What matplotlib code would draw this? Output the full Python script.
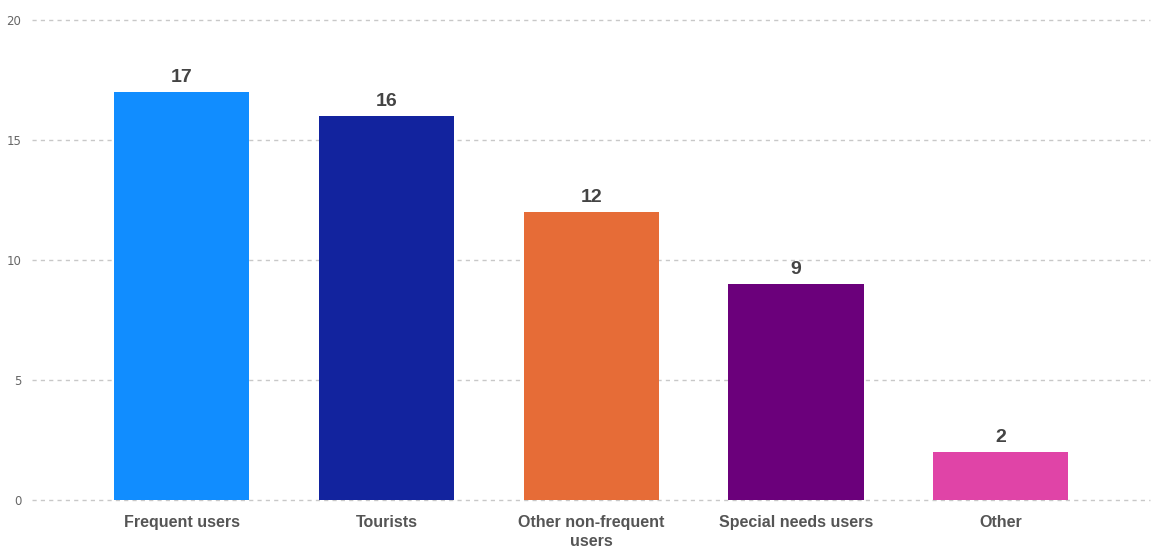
import matplotlib.pyplot as plt

# categories and counts
categories = ["Frequent users", "Tourists", "Other non-frequent\nusers",
              "Special needs users", "Other"]
counts = [17, 16, 12, 9, 2]
bar_colors = ["#118DFF", "#12239E", "#E66C37", "#6B007B", "#E044A7"]
y_ticks = [0, 5, 10, 15, 20]

fig = plt.figure(figsize=(11.56, 5.5), dpi=100)
ax = fig.add_axes([0.028, 0.091, 0.967, 0.873])

x = range(len(categories))
bars = ax.bar(x, counts, width=0.66, color=bar_colors, zorder=3)

# value labels above each bar
for b, v in zip(bars, counts):
    ax.text(b.get_x() + b.get_width() / 2, v + 0.25, str(v),
            ha="center", va="bottom", fontsize=14, fontweight="bold",
            color="#444444", family="Liberation Sans")

ax.set_xlim(-0.73, 4.73)
ax.set_ylim(0, 20)
ax.set_yticks(y_ticks)
ax.set_xticks(list(x))
ax.set_xticklabels(categories, fontsize=11.5, fontweight="bold",
                   color="#555555", family="Liberation Sans", linespacing=1.35)
ax.tick_params(axis="y", labelsize=8.5, labelcolor="#666666", length=0, pad=8)
ax.tick_params(axis="x", length=0, pad=11)

ax.yaxis.grid(True, linestyle=(0, (3, 3)), color="#C8C8C8", linewidth=1, zorder=0)
for gl in ax.get_ygridlines():
    gl.set_clip_on(False)
for s in ax.spines.values():
    s.set_visible(False)

fig.savefig("out.png", dpi=100)
